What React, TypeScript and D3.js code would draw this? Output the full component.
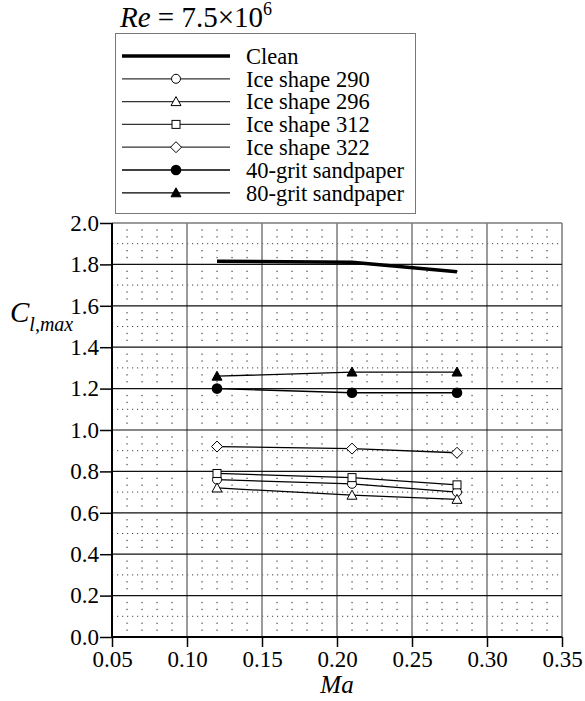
import * as d3 from "d3";
import React from "react";

// values
const machNumbers = [0.12, 0.21, 0.28];
const seriesNames = [
  "Clean",
  "Ice shape 290",
  "Ice shape 296",
  "Ice shape 312",
  "Ice shape 322",
  "40-grit sandpaper",
  "80-grit sandpaper",
];
const cleanValues = [1.815, 1.81, 1.765];
const ice290Values = [0.76, 0.74, 0.7];
const ice296Values = [0.72, 0.685, 0.665];
const ice312Values = [0.79, 0.77, 0.735];
const ice322Values = [0.92, 0.91, 0.89];
const grit40Values = [1.2, 1.18, 1.18];
const grit80Values = [1.26, 1.28, 1.28];
const xTicks = [0.05, 0.1, 0.15, 0.2, 0.25, 0.3, 0.35];
const yTicks = [0, 0.2, 0.4, 0.6, 0.8, 1.0, 1.2, 1.4, 1.6, 1.8, 2.0];

const markers = ["none", "circle", "triangle", "square", "diamond", "dot", "filledTriangle"];
const seriesValues = [
  cleanValues,
  ice290Values,
  ice296Values,
  ice312Values,
  ice322Values,
  grit40Values,
  grit80Values,
];

const FONT = "Liberation Serif";

function drawMarker(g: any, kind: string, cx: number, cy: number) {
  if (kind === "circle") {
    g.append("circle").attr("cx", cx).attr("cy", cy).attr("r", 4.5)
      .attr("fill", "white").attr("stroke", "black").attr("stroke-width", 1);
  } else if (kind === "dot") {
    g.append("circle").attr("cx", cx).attr("cy", cy).attr("r", 5.3).attr("fill", "black");
  } else if (kind === "square") {
    g.append("rect").attr("x", cx - 4).attr("y", cy - 4).attr("width", 8).attr("height", 8)
      .attr("fill", "white").attr("stroke", "black").attr("stroke-width", 1);
  } else if (kind === "triangle" || kind === "filledTriangle") {
    const filled = kind === "filledTriangle";
    g.append("path")
      .attr("d", `M${cx},${cy - 5} L${cx + 5},${cy + 4} L${cx - 5},${cy + 4} Z`)
      .attr("fill", filled ? "black" : "white")
      .attr("stroke", "black").attr("stroke-width", 1);
  } else if (kind === "diamond") {
    g.append("path")
      .attr("d", `M${cx},${cy - 5.5} L${cx + 5.5},${cy} L${cx},${cy + 5.5} L${cx - 5.5},${cy} Z`)
      .attr("fill", "white").attr("stroke", "black").attr("stroke-width", 1);
  }
}

const App = () => {
  const ref = React.useRef<SVGSVGElement>(null);
  React.useEffect(() => {
    const width = 585, height = 701;
    const svg = d3.select(ref.current).attr("width", width).attr("height", height)
      .attr("font-family", FONT);
    svg.selectAll("*").remove();

    const x = d3.scaleLinear().domain([0.05, 0.35]).range([112, 562]);
    const y = d3.scaleLinear().domain([0, 2]).range([637, 223]);

    // minor dot grid: every 0.01 in x, every 1/30 in y
    const dotX = d3.range(5, 36).filter((i) => i % 5 !== 0).map((i) => i / 100);
    const dotY = d3.range(0, 61).filter((j) => j % 3 !== 0).map((j) => j / 30);
    const dots = svg.append("g").attr("fill", "#555");
    dotX.forEach((dx) => {
      dotY.forEach((dy) => {
        dots.append("rect").attr("x", x(dx) - 0.6).attr("y", y(dy) - 0.6)
          .attr("width", 1.3).attr("height", 1.3);
      });
    });

    // dotted lines at odd tenths
    const dotted = d3.range(1, 20, 2).map((j) => j / 10);
    svg.append("g").selectAll("line").data(dotted).enter().append("line")
      .attr("x1", x(0.05)).attr("x2", x(0.35))
      .attr("y1", (d) => y(d)).attr("y2", (d) => y(d))
      .attr("stroke", "#444").attr("stroke-width", 1)
      .attr("stroke-dasharray", "1.2,3.8");

    // major grid
    svg.append("g").selectAll("line").data(xTicks.slice(1)).enter().append("line")
      .attr("x1", (d) => x(d)).attr("x2", (d) => x(d))
      .attr("y1", y(0)).attr("y2", y(2))
      .attr("stroke", "#7a7a7a").attr("stroke-width", 1.5);
    svg.append("g").selectAll("line").data(yTicks.slice(1)).enter().append("line")
      .attr("x1", x(0.05)).attr("x2", x(0.35))
      .attr("y1", (d) => y(d)).attr("y2", (d) => y(d))
      .attr("stroke", (d) => (d === 2 ? "#7a7a7a" : "#111"))
      .attr("stroke-width", (d) => (d === 2 ? 1.5 : 1.2));

    // axes
    const xAxisG = svg.append("g").attr("transform", `translate(0,${y(0)})`);
    xAxisG.call(
      d3.axisBottom(x).tickValues(d3.range(5, 36).map((i) => i / 100))
        .tickSize(6).tickFormat(() => "")
    );
    xAxisG.call(
      d3.axisBottom(x).tickValues(xTicks).tickSize(10).tickPadding(4)
        .tickFormat(d3.format(".2f"))
    );
    const yAxisG = svg.append("g").attr("transform", `translate(${x(0.05)},0)`);
    yAxisG.call(
      d3.axisLeft(y).tickValues(dotted).tickSize(6).tickFormat(() => "")
    );
    yAxisG.call(
      d3.axisLeft(y).tickValues(yTicks).tickSize(12).tickPadding(1)
        .tickFormat(d3.format(".1f"))
    );
    xAxisG.selectAll(".domain").remove();
    yAxisG.selectAll(".domain").remove();
    svg.append("line").attr("x1", x(0.05)).attr("x2", x(0.35)).attr("y1", y(0)).attr("y2", y(0))
      .attr("stroke", "black").attr("stroke-width", 2);
    svg.append("line").attr("x1", x(0.05)).attr("x2", x(0.05)).attr("y1", y(0)).attr("y2", y(2))
      .attr("stroke", "black").attr("stroke-width", 2);
    svg.selectAll(".tick line").attr("stroke", "black").attr("stroke-width", 1.5);
    svg.selectAll(".tick text").attr("fill", "black")
      .attr("font-family", FONT).attr("font-size", 23);

    // series
    const line = d3.line<number>().x((d, i) => x(machNumbers[i])).y((d) => y(d));
    seriesValues.forEach((vals, k) => {
      svg.append("path").attr("d", line(vals)).attr("fill", "none")
        .attr("stroke", "black").attr("stroke-width", k === 0 ? 3.5 : 1.3);
    });
    seriesValues.forEach((vals, k) => {
      const g = svg.append("g");
      vals.forEach((v, i) => drawMarker(g, markers[k], x(machNumbers[i]), y(v)));
    });

    // legend
    const legend = svg.append("g");
    legend.append("rect").attr("x", 115.5).attr("y", 33.5).attr("width", 300).attr("height", 180)
      .attr("fill", "white").attr("stroke", "#777").attr("stroke-width", 1);
    seriesNames.forEach((name, k) => {
      const ly = 56 + k * 22.8;
      legend.append("line").attr("x1", 122).attr("x2", 230).attr("y1", ly).attr("y2", ly)
        .attr("stroke", k >= 1 && k <= 4 ? "#333" : "black")
        .attr("stroke-width", k === 0 ? 3.5 : 1.3);
      drawMarker(legend, markers[k], 176, ly);
      legend.append("text").attr("x", 246).attr("y", ly).attr("dy", "0.35em")
        .attr("font-family", FONT).attr("font-size", 22.5).text(name);
    });

    // title
    const title = svg.append("text").attr("x", 120).attr("y", 27)
      .attr("font-family", FONT).attr("font-size", 29);
    title.append("tspan").attr("font-style", "italic").text("Re");
    title.append("tspan").text(" = 7.5×10");
    title.append("tspan").attr("dy", -12).attr("font-size", 18).text("6");

    // axis titles
    const yTitle = svg.append("text").attr("x", 10).attr("y", 322)
      .attr("font-family", FONT).attr("font-style", "italic").attr("font-size", 29);
    yTitle.append("tspan").text("C");
    yTitle.append("tspan").attr("dy", 9).attr("font-size", 20).text("l,max");

    svg.append("text").attr("x", x(0.2)).attr("y", 693).attr("text-anchor", "middle")
      .attr("font-family", FONT).attr("font-style", "italic").attr("font-size", 25)
      .text("Ma");
  }, []);

  return (
    <svg ref={ref} style={{ position: "absolute", left: 0, top: 0 }}></svg>
  );
};

export default App;
